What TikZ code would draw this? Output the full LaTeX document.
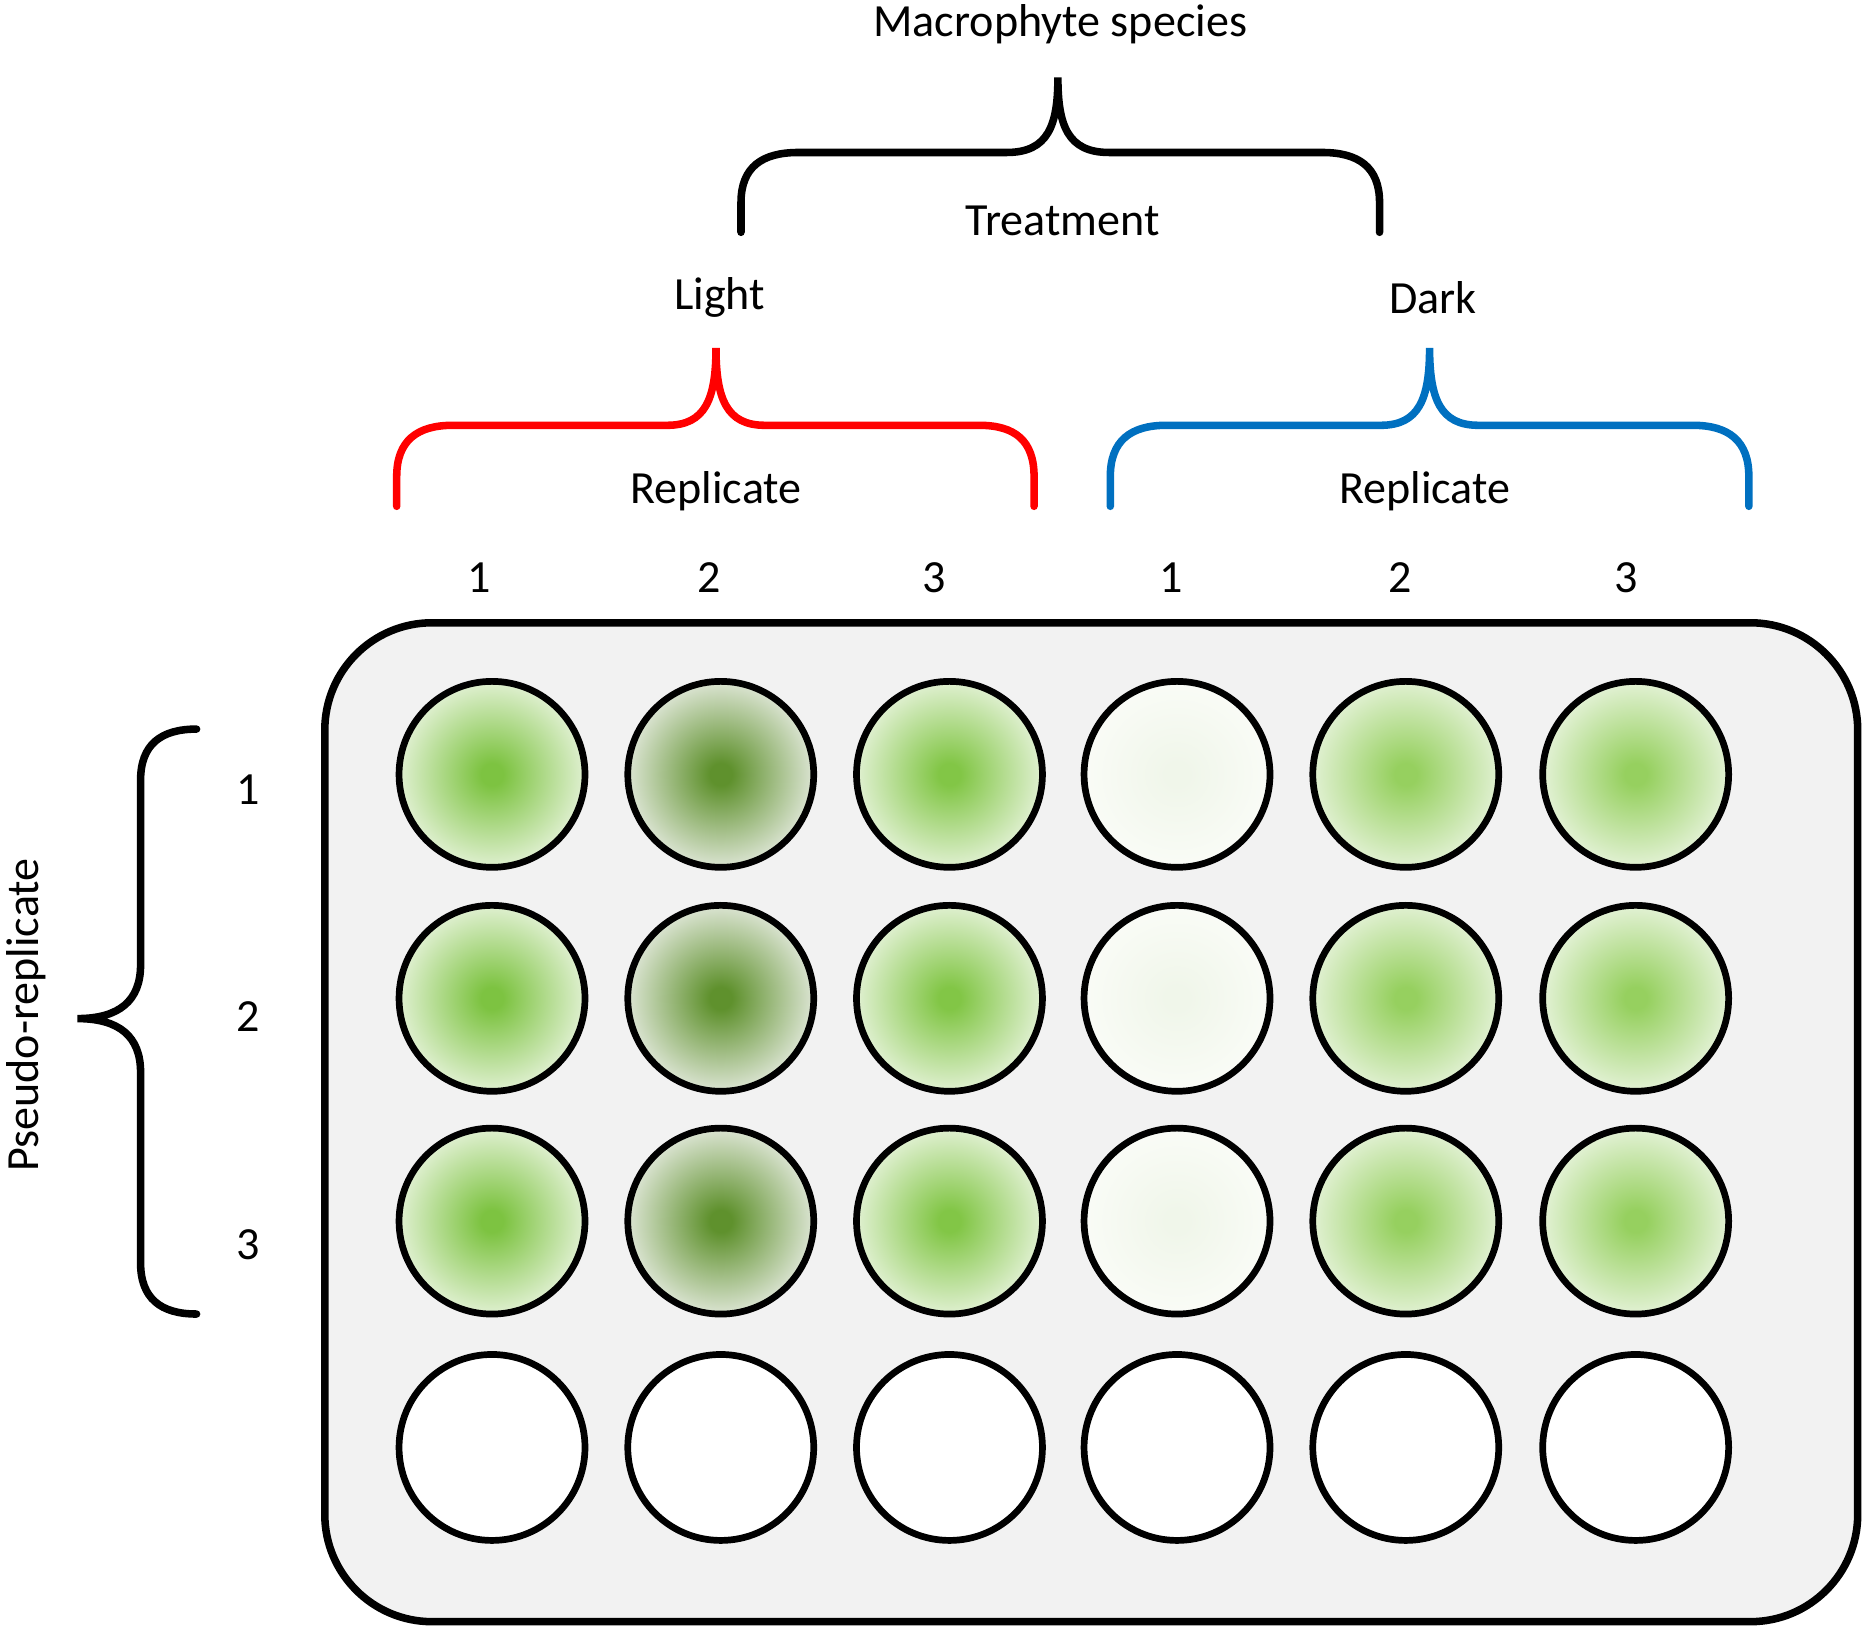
\documentclass[tikz,border=0pt]{standalone}
\usepackage{fontspec}
\setmainfont{Carlito}
\begin{document}
\begin{tikzpicture}[x=0.01cm,y=-0.01cm,
  lbl/.style={font=\fontsize{11}{13}\selectfont},
  well/.style={draw=black,line width=1.6pt,circle,minimum size=1.56cm,inner sep=0pt},
  br/.style={line width=1.8pt,line cap=round}]
\useasboundingbox (0,0) rectangle (1568,1373);
\definecolor{wc}{RGB}{120,195,60}\definecolor{we}{RGB}{215,238,195}
\pgfdeclareradialshading[wc,we]{wshade}{\pgfpoint{0cm}{0cm}}{color(0bp)=(wc);color(3bp)=(wc);color(26bp)=(we);color(50bp)=(we)}
\node[draw=black,line width=1.8pt,fill=black!5,rounded corners=0.9cm,minimum width=12.86cm,minimum height=8.38cm,inner sep=0pt] (plate) at (916,942) {};
\def\xs{{413,605,797,988,1180,1373}}
\foreach \c/\ci [count=\i from 0] in {{125,195,65}/{228,242,215},{95,145,45}/{225,232,218},{130,198,70}/{228,242,215},{240,246,234}/{250,252,247},{150,208,95}/{228,242,215},{150,208,95}/{230,243,218}}{
  \foreach \y [count=\r] in {650,838,1025}{
    \definecolor{wc}{RGB}{\c}\definecolor{we}{RGB}{\ci}
    \pgfmathsetmacro{\xx}{\xs[\i]}
    \node[well,shading=wshade] (w\i\r) at (\xx,\y) {};
  }
  \pgfmathsetmacro{\xx}{\xs[\i]}
  \node[well,fill=white] (w\i4) at (\xx,1215) {};
}
% column labels
\foreach \x/\t [count=\k] in {402/1,595/2,784/3,983/1,1175/2,1365/3}{\node[lbl] (c\k) at (\x,485) {\t};}
\foreach \y/\t [count=\k] in {663/1,853/2,1045/3}{\node[lbl] (r\k) at (208,\y) {\t};}
\node[lbl] (ms) at (890,20) {Macrophyte species};
\node[lbl] (tr) at (892,185) {Treatment};
\node[lbl] (li) at (604,250) {Light};
\node[lbl] (da) at (1203,250) {Dark};
\node[lbl] (rl) at (601,412) {Replicate};
\node[lbl] (rd) at (1196,412) {Replicate};
\node[lbl,rotate=90] (ps) at (22,852) {Pseudo-replicate};
% braces
\draw[br] (622,195) -- (622,170) .. controls (622,140) and (640,128) .. (670,128) -- (845,128) .. controls (880,128) and (888,105) .. (888,65)
  .. controls (888,105) and (896,128) .. (931,128) -- (1110,128) .. controls (1140,128) and (1158,140) .. (1158,170) -- (1158,195);
\draw[br,red] (333,425) -- (333,400) .. controls (333,370) and (350,357) .. (380,357) -- (560,357) .. controls (592,357) and (601,335) .. (601,292)
  .. controls (601,335) and (610,357) .. (642,357) -- (822,357) .. controls (852,357) and (868,370) .. (868,400) -- (868,425);
\draw[br,color={rgb,255:red,0;green,112;blue,192}] (932,425) -- (932,400) .. controls (932,370) and (949,357) .. (979,357) -- (1159,357) .. controls (1191,357) and (1200,335) .. (1200,292)
  .. controls (1200,335) and (1209,357) .. (1241,357) -- (1421,357) .. controls (1451,357) and (1468,370) .. (1468,400) -- (1468,425);
\draw[br] (165,612) .. controls (135,612) and (118,625) .. (118,655) -- (118,810) .. controls (118,840) and (100,855) .. (65,855)
  .. controls (100,855) and (118,870) .. (118,900) -- (118,1060) .. controls (118,1090) and (135,1103) .. (165,1103);
\end{tikzpicture}
\end{document}
